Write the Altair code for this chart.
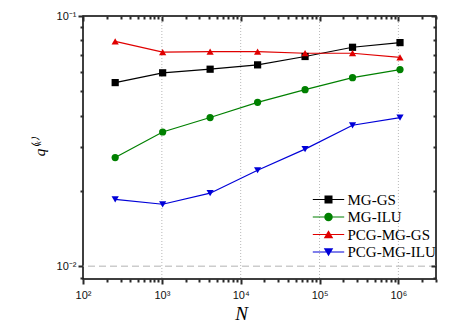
import json
import altair as alt
import pandas as pd

# ---------------- data ----------------
N = [256, 1024, 4096, 16384, 65536, 262144, 1048576]
series_names = ["MG-GS", "MG-ILU", "PCG-MG-GS", "PCG-MG-ILU"]
q_mg_gs = [0.0542, 0.0593, 0.0613, 0.0638, 0.0689, 0.0750, 0.0783]
q_mg_ilu = [0.0272, 0.0344, 0.0393, 0.0452, 0.0508, 0.0567, 0.0611]
q_pcg_mg_gs = [0.0792, 0.0717, 0.0720, 0.0720, 0.0710, 0.0710, 0.0684]
q_pcg_mg_ilu = [0.0185, 0.0177, 0.0196, 0.0242, 0.0294, 0.0366, 0.0393]

colors = ["#000000", "#008000", "#e00000", "#0000d8"]
shapes = ["square", "circle", "triangle-up", "triangle-down"]

x_major = [100, 1000, 10000, 100000, 1000000]
x_major_labels = ["10²", "10³", "10⁴", "10⁵", "10⁶"]
x_minor = [k * 10 ** e for e in range(2, 7) for k in range(2, 10) if k * 10 ** e <= 3000000]
x_grid = [1000, 10000, 100000, 1000000]
y_major = [0.01, 0.1]
y_major_labels = ["10⁻²", "10⁻¹"]
y_minor = [0.009, 0.02, 0.03, 0.04, 0.05, 0.06, 0.07, 0.08, 0.09]
y_grid = [0.01]
x_domain = [100, 3000000]
y_domain = [0.0089, 0.1]

rows = []
for name, vals in zip(series_names, [q_mg_gs, q_mg_ilu, q_pcg_mg_gs, q_pcg_mg_ilu]):
    for n, q in zip(N, vals):
        rows.append({"N": n, "q": q, "series": name})
df = pd.DataFrame(rows)

# legend symbols: a horizontal line through a marker (custom SVG paths)
line_part = "M-3.14,-0.12L3.14,-0.12L3.14,0.12L-3.14,0.12Z"
legend_paths = [
    line_part + "M-0.8,-0.8L0.8,-0.8L0.8,0.8L-0.8,0.8Z",
    line_part + "M0.85,0A0.85,0.85 0 1,1 -0.85,0A0.85,0.85 0 1,1 0.85,0Z",
    line_part + "M0,-0.85L0.95,0.75L-0.95,0.75Z",
    line_part + "M-0.95,-0.75L0.95,-0.75L0,0.85Z",
]

TICK = "#2a2a2a"
TW = 2


def label_expr(vals, labels):
    v = json.dumps(vals)
    lab = json.dumps(labels, ensure_ascii=False)
    return f"indexof({v}, datum.value) >= 0 ? {lab}[indexof({v}, datum.value)] : ''"


xs = alt.Scale(type="log", domain=x_domain, nice=False)
ys = alt.Scale(type="log", domain=y_domain, nice=False)
cscale = alt.Scale(domain=series_names, range=colors)

LABEL_FONT = "Liberation Sans"
SERIF = "Liberation Serif"

x_axis_main = alt.Axis(
    orient="bottom", values=x_major, labelExpr=label_expr(x_major, x_major_labels),
    ticks=True, tickSize=5, tickOpacity=1, zindex=2,
    tickColor=TICK, tickWidth=TW, domain=False, grid=False, labelOverlap=False, labelFlush=False,
    labelFont=LABEL_FONT, labelFontSize=11, labelColor="#111111", labelPadding=5,
    title="N", titleFont=SERIF, titleFontStyle="italic", titleFontWeight="normal",
    titleFontSize=19, titleColor="black", titleX=158, titleY=34, titleBaseline="middle",
    titleAlign="center",
)
y_axis_main = alt.Axis(
    orient="left", values=y_major, labelExpr=label_expr(y_major, y_major_labels),
    ticks=True, tickSize=5, tickOpacity=1, zindex=2,
    tickColor=TICK, tickWidth=TW, domain=False, grid=False, labelOverlap=False, labelFlush=False,
    labelFont=LABEL_FONT, labelFontSize=11, labelColor="#111111", labelPadding=2,
    title="q⁽ᵏ⁾", titleFont=SERIF, titleFontStyle="italic", titleFontWeight="normal",
    titleFontSize=15, titleColor="black", titleX=-44, titleY=131, titleAngle=270,
    titleAlign="center", titleBaseline="middle",
)

base = alt.Chart(df)

xgrid_layer = alt.Chart(pd.DataFrame({"g": x_grid})).mark_rule(
    color="#b8b8b8", strokeDash=[1, 2], strokeWidth=1
).encode(x=alt.X("g:Q", scale=xs, axis=None))
ygrid_layer = alt.Chart(pd.DataFrame({"g": y_grid})).mark_rule(
    color="#cccccc", strokeDash=[7, 4], strokeWidth=1.5
).encode(y=alt.Y("g:Q", scale=ys, axis=None))

lines = base.mark_line(strokeWidth=1.2).encode(
    x=alt.X("N:Q", scale=xs, axis=x_axis_main),
    y=alt.Y("q:Q", scale=ys, axis=y_axis_main),
    color=alt.Color("series:N", scale=cscale, legend=None),
    detail="series:N",
)

points = base.mark_point(filled=True, size=52, opacity=1).encode(
    x=alt.X("N:Q", scale=xs, axis=None),
    y=alt.Y("q:Q", scale=ys, axis=None),
    color=alt.Color("series:N", scale=cscale, legend=None),
    shape=alt.Shape("series:N", scale=alt.Scale(domain=series_names, range=shapes), legend=None),
)

leg_props = dict(
    orient="none", legendX=238, legendY=176, title=None, labelFont=SERIF,
    labelFontSize=15, labelColor="black", symbolSize=100, symbolOpacity=1,
    symbolStrokeWidth=0, labelOffset=11.5, rowPadding=1.5, padding=0,
)
legend_layer = base.mark_point(filled=True, opacity=0).encode(
    x=alt.X("N:Q", scale=xs, axis=None),
    y=alt.Y("q:Q", scale=ys, axis=None),
    color=alt.Color("series:N", scale=cscale, legend=alt.Legend(**leg_props)),
    shape=alt.Shape("series:N", scale=alt.Scale(domain=series_names, range=legend_paths),
                    legend=alt.Legend(**leg_props)),
)


def tick_axes(xorient, yorient, xvals, yvals, size, offset):
    common = dict(labels=False, domain=False, grid=False, ticks=True, tickColor=TICK,
                  tickWidth=TW, tickOpacity=1, tickSize=size, offset=offset, title=None, zindex=2)
    return base.mark_point(opacity=0).encode(
        x=alt.X("N:Q", scale=xs, axis=alt.Axis(orient=xorient, values=xvals, **common)),
        y=alt.Y("q:Q", scale=ys, axis=alt.Axis(orient=yorient, values=yvals, **common)),
    )


outer_minor = tick_axes("bottom", "left", x_minor, y_minor, 3, 0)
mirror_major = tick_axes("top", "right", x_major, y_major, 5, -5)
mirror_minor = tick_axes("top", "right", x_minor, y_minor, 3, -3)

chart = alt.layer(
    xgrid_layer, ygrid_layer, lines, points, legend_layer, outer_minor, mirror_major, mirror_minor
).resolve_scale(
    color="independent", shape="independent"
).resolve_axis(x="independent", y="independent").properties(
    width=353, height=263,
    padding={"left": 83, "top": 16, "right": 20, "bottom": 48},
    autosize=alt.AutoSizeParams(type="none"),
    background="white",
).configure_view(stroke="black", strokeWidth=1.5)

chart.save("out.html", embed_options={"renderer": "svg", "actions": False})
